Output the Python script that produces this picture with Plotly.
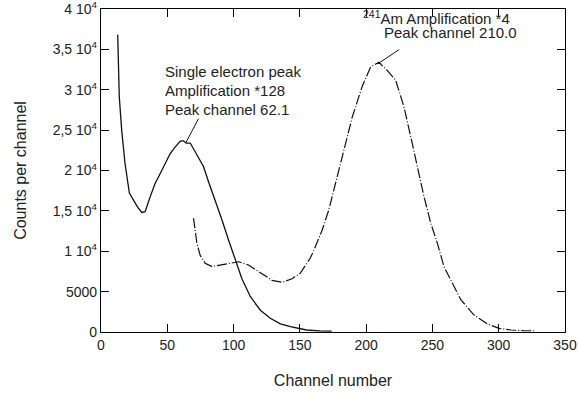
import plotly.graph_objects as go

# Single electron spectrum (solid)
se_channel = [12.6, 13.1, 13.8, 15.6, 18.1, 21.4, 24.4, 27.5, 30.8, 33.3, 37.0, 40.8, 44.6, 48.4,
              52.2, 55.9, 59.7, 62.0, 64.2, 67.3, 69.8, 73.6, 77.3, 81.1, 86.2, 91.2, 96.2, 101.3,
              106.3, 112.6, 120.2, 127.7, 135.3, 142.9, 149.1, 155.0, 165.0, 174.0]
se_counts = [36800, 33700, 29100, 25000, 20900, 17200, 16300, 15500, 14800, 14900, 16700, 18400,
             19600, 20900, 22100, 22900, 23600, 23700, 23400, 23400, 22700, 21500, 20500, 18600,
             16300, 13900, 11400, 8900, 6600, 4400, 2700, 1700, 1000, 660, 450, 250, 150, 100]

# 241Am spectrum (dashed)
am_channel = [69.8, 71.0, 72.3, 74.8, 78.6, 83.7, 89.9, 96.2, 103.8, 111.3, 120.2, 129.0, 136.6,
              144.1, 150.4, 158.0, 160.5, 166.8, 171.8, 176.9, 183.2, 189.5, 197.0, 203.3, 209.6,
              215.9, 222.2, 228.5, 233.6, 238.6, 243.6, 248.7, 253.7, 258.7, 265.1, 271.4, 281.4,
              291.5, 300.3, 309.0, 318.0, 326.7]
am_counts = [14100, 12600, 11000, 9500, 8500, 8100, 8300, 8500, 8700, 8300, 7300, 6400, 6150,
             6600, 7300, 9200, 10100, 12600, 15100, 18400, 22500, 26600, 30400, 32800, 33400,
             32400, 31200, 27900, 24200, 20500, 16800, 13500, 11000, 8100, 6000, 4000, 2100,
             1000, 450, 250, 180, 150]

x_ticks = [0, 50, 100, 150, 200, 250, 300, 350]
y_tickvals = [0, 5000, 10000, 15000, 20000, 25000, 30000, 35000, 40000]
y_ticktext = ["0", "5000", "1 10<sup>4</sup>", "1,5 10<sup>4</sup>", "2 10<sup>4</sup>",
              "2,5 10<sup>4</sup>", "3 10<sup>4</sup>", "3,5 10<sup>4</sup>", "4 10<sup>4</sup>"]

FONT = "Liberation Sans, Arial, sans-serif"
TXT = "#222222"

fig = go.Figure()
fig.add_trace(go.Scatter(x=se_channel, y=se_counts, mode="lines",
                         line=dict(color="#111111", width=1.3), showlegend=False))
fig.add_trace(go.Scatter(x=am_channel, y=am_counts, mode="lines",
                         line=dict(color="#111111", width=1.2, dash="10px,2px,1px,2px"),
                         showlegend=False))

ann = [
    dict(x=46.9, y=32215, text="Single electron peak"),
    dict(x=46.9, y=29864, text="Amplification *128"),
    dict(x=46.9, y=27562, text="Peak channel 62.1"),
    dict(x=195.8, y=39000, text="<sup>241</sup>Am Amplification *4"),
    dict(x=211.6, y=37150, text="Peak channel 210.0"),
]
annotations = []
for a in ann:
    annotations.append(dict(x=a["x"], y=a["y"], xref="x", yref="y", text=a["text"],
                            showarrow=False, xanchor="left", yanchor="middle",
                            font=dict(family=FONT, size=15, color=TXT)))
# leader lines
annotations.append(dict(x=64.2, y=23500, ax=74.1, ay=26600, xref="x", yref="y",
                        axref="x", ayref="y", text="", showarrow=True, arrowhead=0,
                        arrowwidth=1, arrowcolor="#111111"))
annotations.append(dict(x=209.6, y=33300, ax=226.0, ay=35100, xref="x", yref="y",
                        axref="x", ayref="y", text="", showarrow=True, arrowhead=0,
                        arrowwidth=1, arrowcolor="#111111"))

axis_common = dict(showline=True, linecolor="black", linewidth=1.3, mirror="ticks",
                   ticks="inside", ticklen=8, tickwidth=1.3, tickcolor="black",
                   showgrid=False, zeroline=False, automargin=False,
                   ticklabeloverflow="allow",
                   tickfont=dict(family=FONT, size=14, color=TXT))

fig.update_layout(
    width=578, height=396,
    margin=dict(l=101, r=13, t=9, b=64),
    plot_bgcolor="white", paper_bgcolor="white",
    xaxis=dict(range=[0, 350], tickvals=x_ticks,
               title=dict(text="Channel number", font=dict(family=FONT, size=16, color=TXT),
                          standoff=22),
               **axis_common),
    yaxis=dict(range=[0, 40000], tickvals=y_tickvals, ticktext=y_ticktext,
               title=dict(text="Counts per channel", font=dict(family=FONT, size=16, color=TXT),
                          standoff=22),
               **axis_common),
    annotations=annotations,
)

fig.write_html("out.html")
